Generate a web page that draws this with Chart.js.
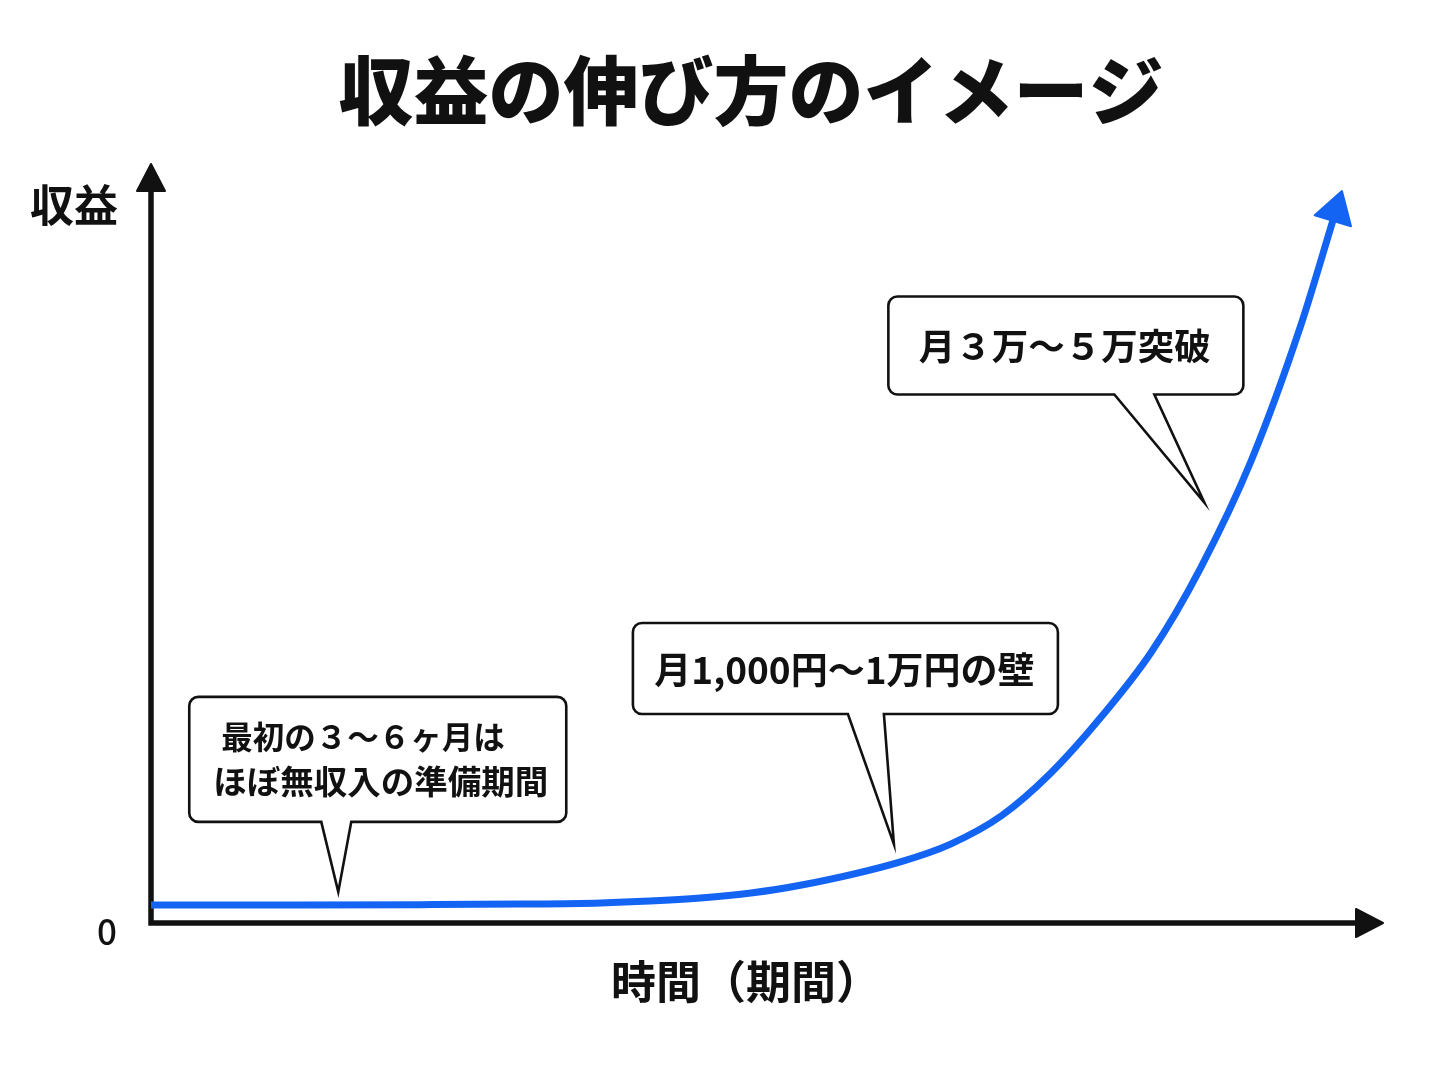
<!DOCTYPE html>
<html lang="ja">
<head>
<meta charset="utf-8">
<script src="https://cdn.jsdelivr.net/npm/chart.js@4"></script>
<style>
  html, body { margin: 0; padding: 0; background: #ffffff; }
  #wrap { width: 1448px; height: 1086px; }
</style>
</head>
<body>
<div id="wrap"><canvas id="c" width="1448" height="1086"></canvas></div>
<script>
// ---- data ----
const titleText = '収益の伸び方のイメージ';
const yAxisLabel = '収益';
const xAxisLabel = '時間（期間）';
const originLabel = '0';
const timeValues    = [0, 12.1, 21.9, 30.0, 36.5, 40.5, 44.6, 48.7, 52.8, 60.9, 64.9, 69.0, 73.0, 77.1, 81.2, 85.2, 89.3, 93.3, 96.0];
const revenueValues = [2.37, 2.37, 2.42, 2.50, 2.65, 2.90, 3.30, 3.95, 5.0, 8.1, 10.4, 14.1, 19.7, 27.1, 35.7, 46.8, 60.9, 78.6, 92.9];
const calloutTexts = [
  ['最初の３～６ヶ月は', 'ほぼ無収入の準備期間'],
  ['月1,000円～1万円の壁'],
  ['月３万～５万突破']
];
const calloutX = [15.2, 60.3, 85.5];
const calloutY = [4.1, 10.4, 55.4];

// ---- styles ----
const FONT = '"Noto Sans CJK JP", "Noto Sans", sans-serif';
const BLUE = '#1464F4';
const INK = '#111111';
const calloutStyle = [
  { dx: -149, dy: -195, w: 377, h: 125, t1: -17, t2: 13, sizes: [31.5, 33.5], lineX: [32, 24], lineDy: [-22, 22], align: 'left' },
  { dx: -261, dy: -221, w: 425, h: 91,  t1: -46, t2: -10, sizes: [37], align: 'center' },
  { dx: -316, dy: -206, w: 355, h: 98,  t1: -90, t2: -50, sizes: [36.5], align: 'center' }
];

function drawArrowHead(ctx, tx, ty, ux, uy, len, half, color) {
  const bx = tx - ux * len, by = ty - uy * len;
  const px = -uy, py = ux;
  ctx.save();
  ctx.fillStyle = color;
  ctx.strokeStyle = color;
  ctx.lineJoin = 'round';
  ctx.lineWidth = 2;
  ctx.beginPath();
  ctx.moveTo(tx, ty);
  ctx.lineTo(bx + px * half, by + py * half);
  ctx.lineTo(bx - px * half, by - py * half);
  ctx.closePath();
  ctx.fill();
  ctx.stroke();
  ctx.restore();
}

function drawCallout(ctx, tip, st, lines) {
  const x = tip.x + st.dx, y = tip.y + st.dy, w = st.w, h = st.h, r = 9;
  const b = y + h;
  ctx.save();
  ctx.beginPath();
  ctx.moveTo(x + r, y);
  ctx.lineTo(x + w - r, y);
  ctx.arcTo(x + w, y, x + w, y + r, r);
  ctx.lineTo(x + w, b - r);
  ctx.arcTo(x + w, b, x + w - r, b, r);
  ctx.lineTo(tip.x + st.t2, b);
  ctx.lineTo(tip.x, tip.y);
  ctx.lineTo(tip.x + st.t1, b);
  ctx.lineTo(x + r, b);
  ctx.arcTo(x, b, x, b - r, r);
  ctx.lineTo(x, y + r);
  ctx.arcTo(x, y, x + r, y, r);
  ctx.closePath();
  ctx.fillStyle = '#ffffff';
  ctx.fill();
  ctx.lineWidth = 2.6;
  ctx.lineJoin = 'miter';
  ctx.strokeStyle = INK;
  ctx.stroke();
  ctx.fillStyle = INK;
  ctx.textBaseline = 'middle';
  const cy = y + h / 2;
  lines.forEach((ln, i) => {
    ctx.font = `bold ${st.sizes[i]}px ${FONT}`;
    if (st.align === 'left') {
      ctx.textAlign = 'left';
      ctx.fillText(ln, x + st.lineX[i], cy + st.lineDy[i]);
    } else {
      ctx.textAlign = 'center';
      ctx.fillText(ln, x + w / 2 - 1, cy + 1);
    }
  });
  ctx.restore();
}

const decor = {
  id: 'decor',
  beforeDraw(chart) {
    const ctx = chart.ctx;
    ctx.save();
    ctx.fillStyle = '#ffffff';
    ctx.fillRect(0, 0, chart.width, chart.height);
    ctx.restore();
  },
  beforeDatasetsDraw(chart) {
    const ctx = chart.ctx;
    const xs = chart.scales.x, ys = chart.scales.y;
    const x0 = xs.getPixelForValue(0), y0 = ys.getPixelForValue(0);
    const xEnd = xs.getPixelForValue(xs.max), yTop = ys.getPixelForValue(ys.max);
    ctx.save();
    ctx.strokeStyle = INK;
    ctx.lineWidth = 5.5;
    ctx.lineCap = 'butt';
    ctx.lineJoin = 'miter';
    ctx.beginPath();
    ctx.moveTo(x0, yTop + 20);
    ctx.lineTo(x0, y0);
    ctx.lineTo(xEnd - 20, y0);
    ctx.stroke();
    ctx.restore();
    drawArrowHead(ctx, x0, yTop, 0, -1, 27, 14, INK);
    drawArrowHead(ctx, xEnd, y0, 1, 0, 27, 14, INK);

    // texts
    ctx.save();
    ctx.fillStyle = INK;
    ctx.textBaseline = 'middle';
    ctx.textAlign = 'center';
    ctx.font = `900 75px ${FONT}`;
    ctx.fillText(titleText, 751, 90);
    ctx.font = `bold 44px ${FONT}`;
    ctx.textAlign = 'right';
    ctx.fillText(yAxisLabel, x0 - 33, 205);
    ctx.textAlign = 'center';
    ctx.font = `bold 45px ${FONT}`;
    ctx.fillText(xAxisLabel, 746, 982);
    ctx.font = `500 35px ${FONT}`;
    ctx.textAlign = 'center';
    ctx.fillText(originLabel, x0 - 44, y0 + 9);
    ctx.restore();
  },
  afterDatasetsDraw(chart) {
    const ctx = chart.ctx;
    const xs = chart.scales.x, ys = chart.scales.y;
    // arrowhead on curve, along the tangent at the last point
    const pts = chart.getDatasetMeta(0).data;
    const last = pts[pts.length - 1];
    const bx = last.x, by = last.y;
    let ux = bx - last.cp1x, uy = by - last.cp1y;
    if (!isFinite(ux) || !isFinite(uy) || Math.hypot(ux, uy) < 0.5) {
      const prev = pts[pts.length - 2];
      ux = bx - prev.x; uy = by - prev.y;
    }
    const L = Math.hypot(ux, uy); ux /= L; uy /= L;
    const len = 31;
    drawArrowHead(ctx, bx + ux * (len - 3), by + uy * (len - 3), ux, uy, len, 19, BLUE);
    // callouts
    calloutTexts.forEach((lines, i) => {
      const tip = { x: xs.getPixelForValue(calloutX[i]), y: ys.getPixelForValue(calloutY[i]) };
      drawCallout(ctx, tip, calloutStyle[i], lines);
    });
  }
};

new Chart(document.getElementById('c'), {
  type: 'line',
  data: {
    datasets: [{
      data: timeValues.map((t, i) => ({ x: t, y: revenueValues[i] })),
      borderColor: BLUE,
      borderWidth: 7,
      pointRadius: 0,
      cubicInterpolationMode: 'monotone',
      borderCapStyle: 'butt',
      borderJoinStyle: 'round',
      fill: false,
      clip: false
    }]
  },
  options: {
    responsive: false,
    devicePixelRatio: 1,
    animation: false,
    layout: { padding: { left: 151, right: 65, top: 164, bottom: 163 } },
    plugins: { legend: { display: false }, title: { display: false }, tooltip: { enabled: false } },
    scales: {
      x: { type: 'linear', min: 0, max: 100, display: false },
      y: { type: 'linear', min: 0, max: 100, display: false }
    }
  },
  plugins: [decor]
});
</script>
</body>
</html>
